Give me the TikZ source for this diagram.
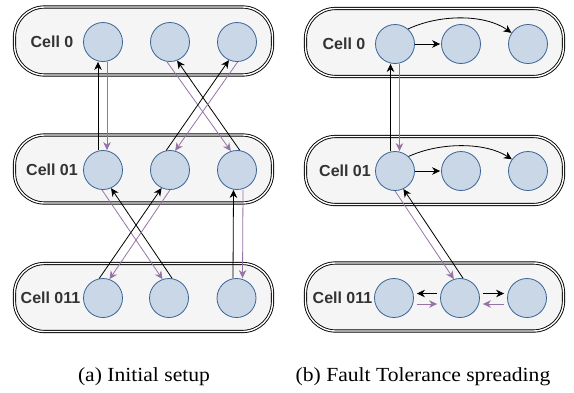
\documentclass[tikz,border=0pt]{standalone}
\usepackage{fontspec}
\setmainfont{Liberation Serif}
\newfontfamily\labelfont{Liberation Sans}
\newfontfamily\capfont[FakeStretch=1.08]{Liberation Serif}
\usetikzlibrary{arrows.meta,calc}
\definecolor{circfill}{HTML}{C9D7E7}
\definecolor{circdraw}{HTML}{3A6396}
\definecolor{purp}{HTML}{9673A6}
\definecolor{boxfill}{HTML}{F5F5F5}
\definecolor{labcol}{HTML}{333333}
\begin{document}
\begin{tikzpicture}[x=1pt,y=-1pt,
  cellbox/.style={draw=black, line width=0.9pt, double=white, double distance=1.4pt, fill=boxfill, rounded corners=30pt, minimum width=258pt, minimum height=68pt, inner sep=0pt},
  proc/.style={circle, draw=circdraw, line width=0.8pt, fill=circfill, minimum size=39pt, inner sep=0pt},
  celllabel/.style={font=\labelfont\bfseries\fontsize{16}{19}\selectfont, text=labcol, inner sep=0pt},
  blk/.style={draw=black, line width=0.8pt, -{Stealth[length=8pt,width=7.5pt,inset=2.5pt]}},
  prp/.style={draw=purp, line width=0.8pt, -{Stealth[length=8pt,width=7.5pt,inset=2.5pt]}},
  short/.style={shorten <=3pt, shorten >=3pt},
  captext/.style={font=\capfont\fontsize{20}{24}\selectfont, inner sep=0pt, anchor=base}
]
\useasboundingbox (0,0) rectangle (574,392);

% ---------- left panel ----------
\node[cellbox] (LA) at (143.5,41) {};
\node[cellbox] (LB) at (143.5,169) {};
\node[cellbox] (LC) at (143.5,297.5) {};
\node[celllabel] (LAl) at (52,42) {Cell 0};
\node[celllabel] (LBl) at (52,170) {Cell 01};
\node[celllabel] (LCl) at (50.5,298) {Cell 011};

\node[proc] (La0) at (103,42) {};
\node[proc] (La1) at (170,42) {};
\node[proc] (La2) at (237,42) {};
\node[proc] (Lb0) at (103,170) {};
\node[proc] (Lb1) at (170,170) {};
\node[proc] (Lb2) at (237,170) {};
\node[proc] (Lc0) at (103,298) {};
\node[proc] (Lc1) at (169,298) {};
\node[proc] (Lc2) at (236.5,298) {};

\draw[blk] ([xshift=-5pt]Lb0.north) -- ([xshift=-5pt]La0.south);
\draw[prp] ([xshift=4pt]La0.south) -- ([xshift=4pt]Lb0.north);
\draw[prp] (La1.-99) -- (Lb2.108);
\draw[blk] (Lb2.82) -- (La1.-69);
\draw[blk] (Lb1.101) -- (La2.-114);
\draw[prp] (La2.-88) -- (Lb1.75);

\draw[prp] (Lb0.-93) -- (Lc1.109);
\draw[blk] (Lc1.81) -- (Lb0.-66);
\draw[blk] (Lc0.101) -- (Lb1.-115);
\draw[prp] (Lb1.-90) -- (Lc0.71);
\draw[blk] ([xshift=-3.5pt]Lc2.north) -- ([xshift=-3.5pt]Lb2.south);
\draw[prp] ([xshift=6pt]Lb2.south) -- ([xshift=6pt]Lc2.north);

% ---------- right panel ----------
\node[cellbox] (RA) at (434.5,42.5) {};
\node[cellbox] (RB) at (434.5,170.5) {};
\node[cellbox] (RC) at (434.5,297) {};
\node[celllabel] (RAl) at (344,44) {Cell 0};
\node[celllabel] (RBl) at (345,171) {Cell 01};
\node[celllabel] (RCl) at (342.5,298) {Cell 011};

\node[proc] (Ra0) at (395,44) {};
\node[proc] (Ra1) at (461,44) {};
\node[proc] (Ra2) at (528,44) {};
\node[proc] (Rb0) at (395,171) {};
\node[proc] (Rb1) at (461,171) {};
\node[proc] (Rb2) at (528,171) {};
\node[proc] (Rc0) at (394,298) {};
\node[proc] (Rc1) at (460,298) {};
\node[proc] (Rc2) at (527,298) {};

\draw[blk, shorten >=1pt] (Ra0.east) -- (Ra1.west);
\draw[blk] (Ra0.49) .. controls (440,14) and (485,14) .. (Ra2.146);
\draw[blk, shorten >=1pt] (Rb0.east) -- (Rb1.west);
\draw[blk] (Rb0.47) .. controls (440,142) and (485,142) .. (Rb2.144);

\draw[blk] ([xshift=-4.5pt]Rb0.north) -- ([xshift=-4.5pt]Ra0.south);
\draw[prp] ([xshift=4.5pt]Ra0.south) -- ([xshift=4.5pt]Rb0.north);

\draw[prp] (Rb0.-90) -- (Rc1.108);
\draw[blk] (Rc1.81) -- (Rb0.-65);

\draw[blk, short] ([yshift=4.5pt]Rc1.west) -- ([yshift=4.5pt]Rc0.east);
\draw[blk, short] ([yshift=4.5pt]Rc1.east) -- ([yshift=4.5pt]Rc2.west);
\draw[prp, short] ([yshift=-6pt]Rc0.east) -- ([yshift=-6pt]Rc1.west);
\draw[prp, short] ([yshift=-6pt]Rc2.west) -- ([yshift=-6pt]Rc1.east);

% ---------- captions ----------
\node[captext] (capa) at (144,381) {(a) Initial setup};
\node[captext] (capb) at (423,381) {(b) Fault Tolerance spreading};
\end{tikzpicture}
\end{document}
